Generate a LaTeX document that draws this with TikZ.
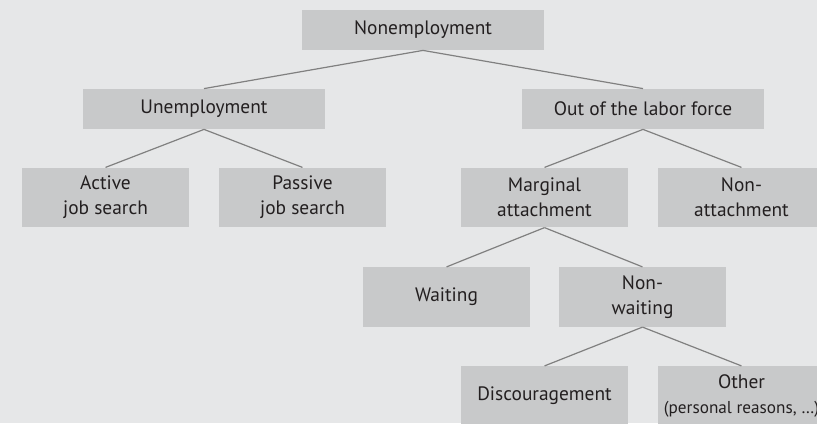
\documentclass[tikz,border=0pt]{standalone}
\usepackage{fontspec}
\setmainfont{PT Sans}
\usepackage{tikz}

\definecolor{bgcol}{HTML}{E6E7E8}
\definecolor{boxcol}{HTML}{C8C9CA}
\definecolor{linecol}{HTML}{808080}
\definecolor{txtcol}{HTML}{231F20}

\tikzset{
  box/.style={fill=boxcol, text=txtcol, inner sep=0pt, align=center,
    font=\fontsize{9.7}{12.5}\selectfont},
  wide/.style={box, minimum width=121pt, minimum height=20pt},
  small/.style={box, minimum width=83.5pt, minimum height=29.7pt}
}

\begin{document}
\begin{tikzpicture}[x=0.5pt,y=-0.5pt]
  \fill[bgcol] (0,0) rectangle (817,423);
  \useasboundingbox (0,0) rectangle (817,423);

  \node[wide]  (nonemp)  at (423,30)      {Nonemployment};
  \node[wide]  (unemp)   at (204,109)     {Unemployment};
  \node[wide]  (olf)     at (643,109)     {Out of the labor force};
  \node[small] (active)  at (105.5,197.5) {Active\\job search};
  \node[small] (passive) at (302.5,197.5) {Passive\\job search};
  \node[small] (marg)    at (544.5,197.5) {Marginal\\attachment};
  \node[small] (nonatt)  at (741.5,197.5) {Non-\\attachment};
  \node[small] (wait)    at (446.5,297)   {Waiting};
  \node[small] (nonwait) at (642.5,297)   {Non-\\waiting};
  \node[small] (disc)    at (544.5,396)   {Discouragement};
  \node[small] (other)   at (741.5,396)   {Other\\{\fontsize{8.6}{9}\selectfont(personal reasons, \dots)}};

  \draw[-, linecol, line width=0.6pt]
      (nonemp.south) edge (unemp.north)
                     edge (olf.north)
      (unemp.south)  edge (active.north)
                     edge (passive.north)
      (olf.south)    edge (marg.north)
                     edge (nonatt.north)
      (marg.south)   edge (wait.north)
                     edge (nonwait.north)
      (nonwait.south) edge (disc.north)
                     edge (other.north);
\end{tikzpicture}
\end{document}
